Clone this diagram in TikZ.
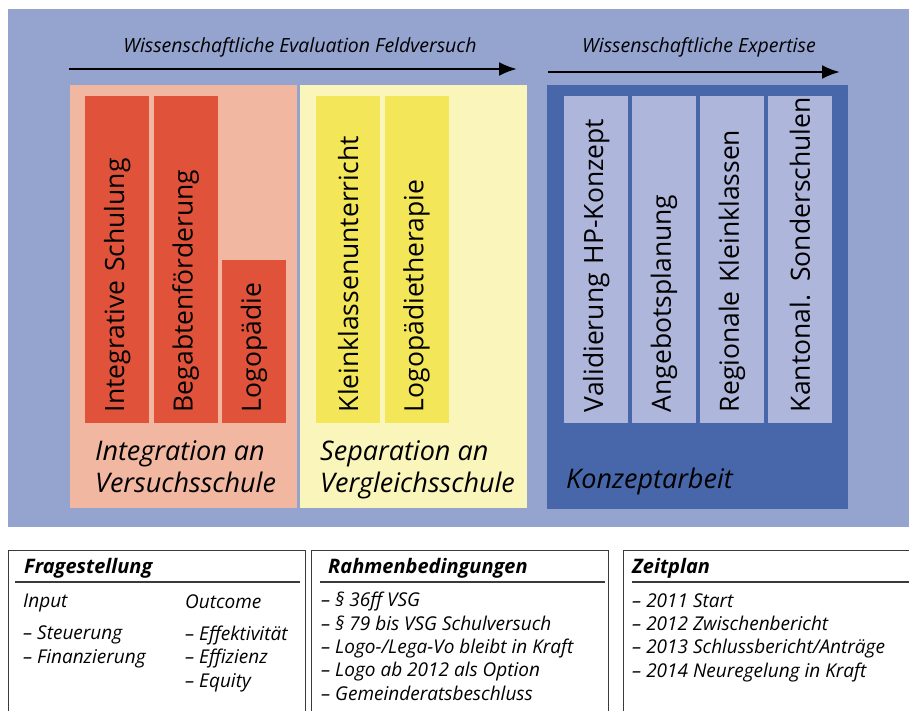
\documentclass[tikz,border=0pt]{standalone}
\usepackage{fontspec}
\setmainfont{Open Sans}
\usetikzlibrary{positioning}
\usetikzlibrary{arrows.meta}
\definecolor{bgblue}{HTML}{95A3CF}
\definecolor{salmon}{HTML}{F2B7A0}
\definecolor{redbar}{HTML}{E0533A}
\definecolor{paleyellow}{HTML}{FAF5BB}
\definecolor{yellowbar}{HTML}{F3E759}
\definecolor{darkblue}{HTML}{4767AA}
\definecolor{lightbluebar}{HTML}{AEB6DB}
\definecolor{boxline}{HTML}{3A3A3A}
\tikzset{	x=1pt, y=-1pt,
	panel/.style={
		anchor=north west,
		inner sep=0pt,
		minimum height=423pt},
	bar/.style={
		rotate=90,
		anchor=north east,
		minimum width=327pt,
		minimum height=64pt,
		text width=305pt,
		align=left,
		inner xsep=11pt,
		inner ysep=0pt,
		font=\fontsize{26.5}{26.5}\selectfont},
	redbar/.style={bar, fill=redbar},
	yellowbar/.style={bar, fill=yellowbar},
	bluebar/.style={bar, fill=lightbluebar},
	paneltext/.style={
		anchor=base west,
		inner sep=0pt,
		align=left,
		font=\fontsize{27}{32}\selectfont\itshape},
	headtext/.style={
		anchor=base,
		inner sep=0pt,
		font=\fontsize{19.5}{19.5}\selectfont\itshape},
	timearrow/.style={
		line width=2.5pt,
		-{Latex[length=18pt,width=14pt]}},
	infobox/.style={
		draw=boxline,
		line width=1.2pt,
		anchor=north west,
		inner sep=0pt,
		minimum height=200pt},
	boxhead/.style={
		anchor=base west,
		inner sep=0pt,
		font=\fontsize{20}{20}\selectfont\bfseries\itshape},
	boxlist/.style={
		anchor=base west,
		inner sep=0pt,
		align=left,
		font=\fontsize{19}{23.3}\selectfont\itshape},
	rule/.style={
		draw=boxline,
		line width=1.2pt}
}
\begin{document}
\begin{tikzpicture}
	\useasboundingbox (0,0) rectangle (909,711);
	\clip (0,0) rectangle (909,711);
	% background
	\node[panel, fill=bgblue, minimum width=910pt, minimum height=518pt] (bg) at (8,9) {};
	% time arrows
	\node[headtext] (evaltxt) at (300,53) {Wissenschaftliche Evaluation Feldversuch};
	\node[headtext] (experttxt) at (699,53) {Wissenschaftliche Expertise};
	\coordinate (evalstart) at (69,69);
	\coordinate (evalend) at (517,69);
	\coordinate (expstart) at (548,72);
	\coordinate (expend) at (840,72);
	\draw[timearrow] (evalstart) -- (evalend);
	\draw[timearrow] (expstart) -- (expend);
	% panels
	\node[panel, fill=salmon, minimum width=227pt] (integ) at (70,85) {};
	\node[panel, fill=paleyellow, minimum width=227pt] (separ) at (300,85) {};
	\node[panel, fill=darkblue, minimum width=301pt, minimum height=424pt] (konzept) at (547,85) {};
	% bars
	\node[redbar] (intsch) at (85,96) {Integrative Schulung};
	\node[redbar] (begabt) at ([xshift=4]intsch.south east) {Begabtenförderung};
	\node[redbar, anchor=north west, minimum width=163pt, text width=141pt] (logo) at ([xshift=4]begabt.south west) {Logopädie};
	\node[yellowbar] (kleinkl) at (316,96) {Kleinklassenunterricht};
	\node[yellowbar] (logother) at ([xshift=4]kleinkl.south east) {Logopädietherapie};
	\node[bluebar] (valid) at (564,96) {Validierung HP-Konzept};
	\node[bluebar] (angebot) at ([xshift=3.5]valid.south east) {Angebotsplanung};
	\node[bluebar] (region) at ([xshift=3.5]angebot.south east) {Regionale Kleinklassen};
	\node[bluebar] (kanton) at ([xshift=3.5]region.south east) {\mbox{Kantonal. Sonderschulen}};
	% panel titles
	\node[paneltext] (integtxt) at (95,492) {Integration an\\Versuchsschule};
	\node[paneltext] (separtxt) at (320,492) {Separation an\\Vergleichsschule};
	\node[paneltext] (konzepttxt) at (566,488) {Konzeptarbeit};
	% info boxes
	\node[infobox, minimum width=297pt] (frage) at (8,550) {};
	\node[infobox, minimum width=297pt] (rahmen) at (311,550) {};
	\node[infobox, minimum width=310pt] (zeit) at (623,550) {};
	\draw[rule] (15,582) -- (300,582);
	\draw[rule] (320,582) -- (605,582);
	\draw[rule] (632,582) -- (909,582);
	\node[boxhead] (fragetxt) at (24,573) {Fragestellung};
	\node[boxhead] (rahmentxt) at (328,573) {Rahmenbedingungen};
	\node[boxhead] (zeittxt) at (632,573) {Zeitplan};
	\node[boxlist] (input) at (23,663) {Input\\[8.7pt]– Steuerung\\– Finanzierung};
	\node[boxlist] (outcome) at (185,687) {Outcome\\[8.7pt]– Effektivität\\– Effizienz\\– Equity};
	\node[boxlist] (rahmenlist) at (321,700) {– § 36ff VSG\\– § 79 bis VSG Schulversuch\\– Logo-/Lega-Vo bleibt in Kraft\\– Logo ab 2012 als Option\\– Gemeinderatsbeschluss};
	\node[boxlist] (zeitlist) at (632,677) {– 2011 Start\\– 2012 Zwischenbericht\\– 2013 Schlussbericht/Anträge\\– 2014 Neuregelung in Kraft};
\end{tikzpicture}
\end{document}
